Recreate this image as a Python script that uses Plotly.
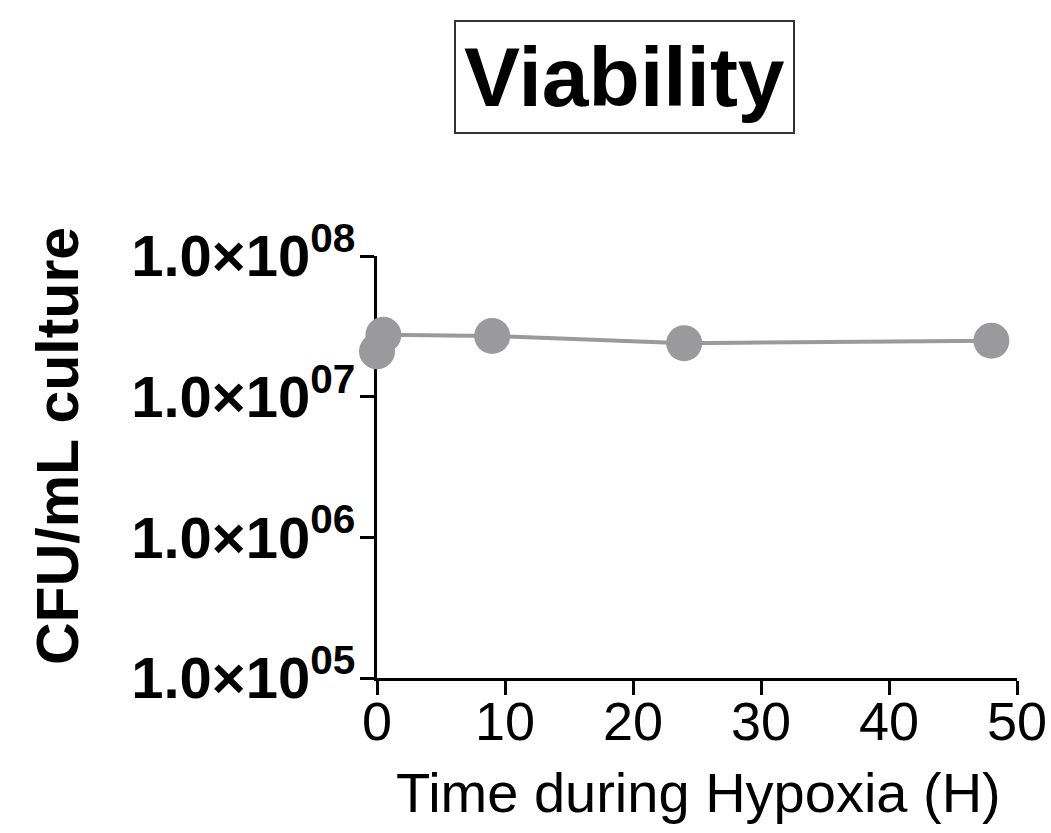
import plotly.graph_objects as go

# Data
time_h = [0, 0.5, 9, 24, 48]
cfu_per_ml = [2.1e7, 2.75e7, 2.7e7, 2.4e7, 2.5e7]

y_tickvals = [1e5, 1e6, 1e7, 1e8]
y_ticktext = ["<b>1.0×10<sup>05</sup></b>", "<b>1.0×10<sup>06</sup></b>",
              "<b>1.0×10<sup>07</sup></b>", "<b>1.0×10<sup>08</sup></b>"]
x_tickvals = [0, 10, 20, 30, 40, 50]

title_text = "Viability"
x_title = "Time during Hypoxia (H)"
y_title = "CFU/mL culture"

FONT = "Arial, Liberation Sans, Helvetica, sans-serif"
GRAY = "#9a9a9c"

fig = go.Figure()
fig.add_trace(go.Scatter(
    x=time_h, y=cfu_per_ml, mode="lines+markers",
    line=dict(color=GRAY, width=4),
    marker=dict(size=36, color=GRAY),
    cliponaxis=False, showlegend=False,
))

W, H = 1051, 833
L, R, T, B = 377, 34, 256, 155
pw, ph = W - L - R, H - T - B

def px_x(x):
    return (x - L) / pw

def px_y(y):
    return (H - B - y) / ph

fig.update_layout(
    width=W, height=H,
    margin=dict(l=L, r=R, t=T, b=B, pad=0, autoexpand=False),
    paper_bgcolor="white", plot_bgcolor="white",
    font=dict(family=FONT, color="black"),
    xaxis=dict(
        range=[0, 50], tickvals=x_tickvals, ticks="outside", ticklen=14,
        tickwidth=3, tickcolor="black", showline=True, linewidth=3,
        linecolor="black", showgrid=False, zeroline=False, automargin=False,
        tickfont=dict(size=54, family=FONT), layer="below traces",
        ticklabelstandoff=-20,
    ),
    yaxis=dict(
        type="log", range=[5, 8], tickvals=y_tickvals, ticktext=y_ticktext,
        ticks="outside", ticklen=14, tickwidth=3, tickcolor="black",
        showline=True, linewidth=3, linecolor="black", showgrid=False,
        zeroline=False, automargin=False, tickfont=dict(size=58, family=FONT),
        layer="below traces", ticklabelstandoff=-7,
    ),
    annotations=[
        dict(text="<b>" + title_text + "</b>", xref="paper", yref="paper",
             x=px_x(624), y=px_y(77), xanchor="center", yanchor="middle",
             showarrow=False, font=dict(size=84, family=FONT),
             bordercolor="#333", borderwidth=2, borderpad=8),
        dict(text=x_title, xref="paper", yref="paper",
             x=px_x(698), y=px_y(792), xanchor="center", yanchor="middle",
             showarrow=False, font=dict(size=56, family=FONT)),
        dict(text="<b>" + y_title + "</b>", xref="paper", yref="paper",
             x=px_x(58), y=px_y(446), xanchor="center", yanchor="middle",
             textangle=-90, showarrow=False, font=dict(size=59, family=FONT)),
    ],
)

fig.write_html("out.html", config={"displayModeBar": False},
               post_script="document.body.style.margin='0';document.body.style.overflow='hidden';")
